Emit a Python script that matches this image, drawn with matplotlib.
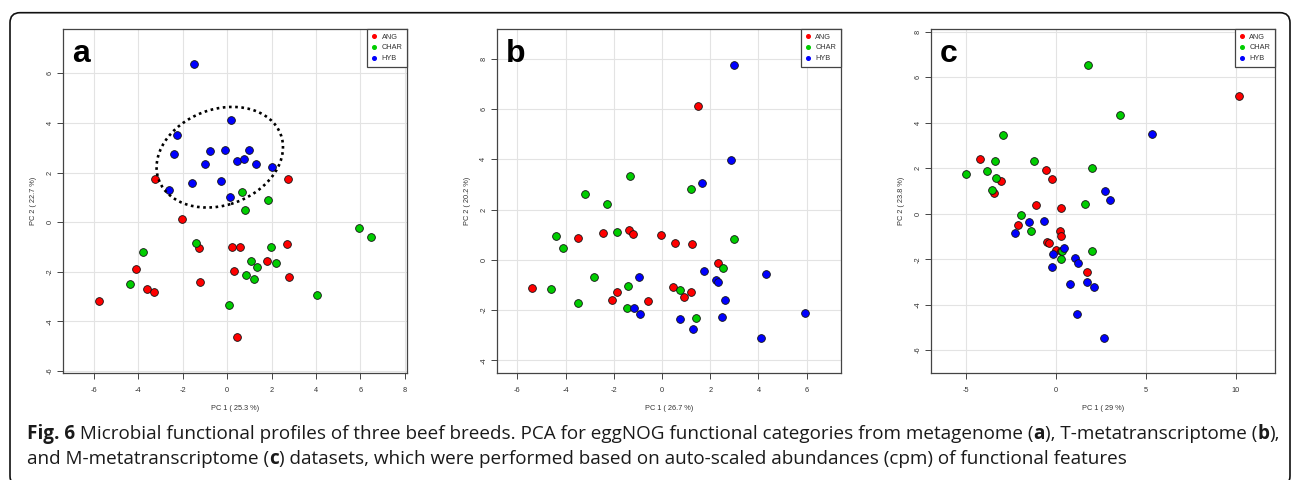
import matplotlib
matplotlib.use("Agg")
import matplotlib.pyplot as plt
from matplotlib.lines import Line2D
from matplotlib.patches import Ellipse, FancyBboxPatch
from matplotlib.transforms import IdentityTransform

# ---------------- data ----------------
groups = ["ANG", "CHAR", "HYB"]
colors = {"ANG": "#FF0000", "CHAR": "#00CD00", "HYB": "#0000FF"}

# Panel a: metagenome
a_ang_x = [-3.24, 2.73, -2.01, -1.26, 0.21, 0.60, 2.68, -4.09, 1.81, 0.33, 2.80, -1.21, -3.60, -3.30, -5.79, 0.46]
a_ang_y = [1.73, 1.73, 0.12, -1.06, -0.98, -0.99, -0.89, -1.87, -1.55, -1.95, -2.19, -2.43, -2.70, -2.80, -3.16, -4.64]
a_char_x = [0.66, 1.83, 0.82, 5.95, 6.48, -1.41, -3.79, 1.96, 1.06, 1.35, 2.20, 0.84, 1.23, -4.36, 4.05, 0.10]
a_char_y = [1.22, 0.90, 0.48, -0.23, -0.60, -0.83, -1.21, -0.98, -1.56, -1.79, -1.64, -2.11, -2.30, -2.51, -2.93, -3.33]
a_hyb_x = [-1.50, 0.18, -2.25, -2.40, -0.79, -0.10, 1.00, -0.99, 0.46, 0.75, 1.30, 2.01, -1.57, -0.27, -2.61, 0.13]
a_hyb_y = [6.37, 4.13, 3.53, 2.76, 2.88, 2.93, 2.90, 2.34, 2.45, 2.54, 2.35, 2.24, 1.59, 1.67, 1.29, 1.01]

# Panel b: T-metatranscriptome
b_ang_x = [1.47, -2.43, -3.50, -1.36, -1.19, -0.06, 0.54, 1.26, 2.34, -5.38, -1.85, -2.07, -0.57, 0.46, 0.89, 1.20]
b_ang_y = [6.12, 1.06, 0.88, 1.18, 1.03, 0.98, 0.68, 0.62, -0.12, -1.14, -1.29, -1.58, -1.63, -1.09, -1.46, -1.29]
b_char_x = [-1.31, -3.21, -2.28, 1.19, -4.38, -4.12, -1.87, 2.97, 2.52, -2.84, -1.40, 0.73, -4.59, -3.49, -1.44, 1.40]
b_char_y = [3.35, 2.63, 2.21, 2.80, 0.93, 0.46, 1.09, 0.82, -0.34, -0.69, -1.03, -1.19, -1.17, -1.70, -1.90, -2.32]
b_hyb_x = [2.99, 2.88, 1.65, 1.73, 4.33, 2.23, 2.30, -0.97, 2.59, -1.16, -0.91, 5.93, 0.76, 2.48, 1.29, 4.10]
b_hyb_y = [7.76, 3.95, 3.04, -0.46, -0.57, -0.81, -0.90, -0.70, -1.59, -1.92, -2.14, -2.11, -2.36, -2.27, -2.75, -3.10]

# Panel c: M-metatranscriptome
c_ang_x = [10.15, -4.22, -3.06, -3.46, -0.54, -0.22, -1.13, 0.28, -2.11, 0.24, 0.30, -0.50, -0.41, 0.02, 0.26, 1.72]
c_ang_y = [5.16, 2.40, 1.44, 0.92, 1.91, 1.51, 0.40, 0.26, -0.48, -0.78, -0.98, -1.26, -1.27, -1.60, -1.65, -2.57]
c_char_x = [1.80, 3.56, -2.93, -3.39, -1.24, 2.02, -4.98, -3.85, -3.31, -3.56, 1.63, -1.96, -1.39, 0.33, 1.98, 0.30]
c_char_y = [6.55, 4.33, 3.48, 2.30, 2.30, 2.02, 1.73, 1.89, 1.55, 1.06, 0.44, -0.07, -0.75, -1.64, -1.66, -2.01]
c_hyb_x = [5.33, 2.70, 3.02, -1.50, -0.65, -2.28, 0.46, -0.17, 1.07, 1.24, -0.20, 0.76, 1.70, 2.13, 1.19, 2.67]
c_hyb_y = [3.52, 1.00, 0.60, -0.38, -0.31, -0.85, -1.52, -1.79, -1.94, -2.17, -2.36, -3.11, -3.02, -3.23, -4.42, -5.45]

panel_letters = ["a", "b", "c"]
x_labels = ["PC 1 ( 25.3 %)", "PC 1 ( 26.7 %)", "PC 1 ( 29 %)"]
y_labels = ["PC 2 ( 22.7 %)", "PC 2 ( 20.2 %)", "PC 2 ( 23.8 %)"]
x_ticks = [[-6, -4, -2, 0, 2, 4, 6, 8], [-6, -4, -2, 0, 2, 4, 6], [-5, 0, 5, 10]]
y_ticks = [[-6, -4, -2, 0, 2, 4, 6], [-4, -2, 0, 2, 4, 6, 8], [-6, -4, -2, 0, 2, 4, 6, 8]]
x_lims = [(-7.39, 8.10), (-6.86, 7.41), (-6.94, 12.15)]
y_lims = [(-6.08, 7.79), (-4.49, 9.18), (-6.99, 8.12)]

# ellipse in panel a (centre, width, height, angle)
ell_center = (-0.33, 2.62)
ell_w, ell_h, ell_angle = 5.8, 3.9, 15

caption_line1 = [("Fig. 6", "bold"),
                 (" Microbial functional profiles of three beef breeds. PCA for eggNOG functional categories from metagenome (", "normal"),
                 ("a", "bold"), ("), T-metatranscriptome (", "normal"), ("b", "bold"), ("),", "normal")]
caption_line2 = [("and M-metatranscriptome (", "normal"), ("c", "bold"),
                 (") datasets, which were performed based on auto-scaled abundances (cpm) of functional features", "normal")]

panels = [
    {"ANG": (a_ang_x, a_ang_y), "CHAR": (a_char_x, a_char_y), "HYB": (a_hyb_x, a_hyb_y)},
    {"ANG": (b_ang_x, b_ang_y), "CHAR": (b_char_x, b_char_y), "HYB": (b_hyb_x, b_hyb_y)},
    {"ANG": (c_ang_x, c_ang_y), "CHAR": (c_char_x, c_char_y), "HYB": (c_hyb_x, c_hyb_y)},
]

# ---------------- figure ----------------
W, H = 1295, 480
fig = plt.figure(figsize=(W / 100, H / 100), dpi=100)
fig.patch.set_facecolor("white")

axes_px = [(63, 29, 407, 373), (496.7, 29, 840.7, 372.7), (931, 29, 1274.7, 372.7)]
spine_col = "#444444"
txt_col = "#333333"
sfont = "Liberation Sans"

for i, (l, t, r, b) in enumerate(axes_px):
    ax = fig.add_axes([l / W, (H - b) / H, (r - l) / W, (b - t) / H])
    ax.set_xlim(*x_lims[i])
    ax.set_ylim(*y_lims[i])
    ax.set_xticks(x_ticks[i])
    ax.set_yticks(y_ticks[i])
    ax.set_xticklabels([str(v) for v in x_ticks[i]], fontsize=5.3, family=sfont, color=txt_col)
    ax.set_yticklabels([str(v) for v in y_ticks[i]], fontsize=5.3, family=sfont, color=txt_col,
                       rotation=90, va="center")
    ax.tick_params(direction="out", length=4, width=0.7, color=spine_col, pad=6)
    ax.tick_params(axis="y", pad=2.8)
    for s in ax.spines.values():
        s.set_color(spine_col)
        s.set_linewidth(0.9)
    ax.grid(True, color="#E3E3E3", linewidth=0.8)
    ax.set_axisbelow(True)
    ax.set_xlabel(x_labels[i], fontsize=5.3, family=sfont, color=txt_col, labelpad=8)
    ax.set_ylabel(y_labels[i], fontsize=5.3, family=sfont, color=txt_col, labelpad=7)

    for g in groups:
        xs, ys = panels[i][g]
        ax.scatter(xs, ys, s=31, c=colors[g], edgecolors="#111111", linewidths=0.6, zorder=3)

    ax.text(0.026, 0.905, panel_letters[i], transform=ax.transAxes, fontsize=23,
            fontweight="bold", family=sfont, va="baseline", ha="left", zorder=5)

    handles = [Line2D([], [], linestyle="none", marker="o", markersize=2.6,
                      markerfacecolor=colors[g], markeredgecolor=colors[g]) for g in groups]
    leg = ax.legend(handles, groups, loc="upper right", borderaxespad=0, fancybox=False,
                    handlelength=0.8, handletextpad=0.6, labelspacing=0.5,
                    borderpad=0.6, framealpha=1, prop={"family": sfont, "size": 5.3})
    leg.get_frame().set_edgecolor(spine_col)
    leg.get_frame().set_linewidth(0.9)
    for tx in leg.get_texts():
        tx.set_color(txt_col)
    leg.set_zorder(6)

    if i == 0:
        ax.add_patch(Ellipse(ell_center, ell_w, ell_h, angle=ell_angle, fill=False,
                             edgecolor="black", linestyle=(0, (1.0, 1.35)), linewidth=1.9, zorder=4,
                             capstyle="butt"))

# outer rounded frame (pixel coordinates)
frame = FancyBboxPatch((10, -6), 1280, 480 - 12.7 + 6, boxstyle="round,pad=0,rounding_size=10",
                       transform=IdentityTransform(), fill=False, edgecolor="#111111", linewidth=1.2)
fig.patches.append(frame)

# caption with mixed weights
renderer = fig.canvas.get_renderer()
cap_font = "Open Sans"
cap_size = 13.6

def draw_runs(runs, x_px, y_px):
    x = x_px
    for txt, wt in runs:
        t = fig.text(x / W, y_px / H, txt, fontsize=cap_size, fontweight=wt, family=cap_font,
                     color="#1a1a1a", va="baseline", ha="left")
        bb = t.get_window_extent(renderer)
        x = bb.x1

draw_runs(caption_line1, 27, H - 439)
draw_runs(caption_line2, 27, H - 464)

fig.savefig("out.png", dpi=100)
